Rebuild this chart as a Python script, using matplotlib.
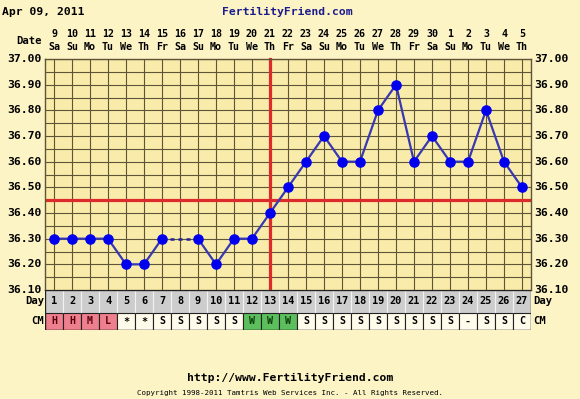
import numpy as np
import matplotlib.pyplot as plt
from matplotlib.patches import Rectangle

W, H = 580, 399

cycle_days = list(range(1, 28))
dates = ['9', '10', '11', '12', '13', '14', '15', '16', '17', '18', '19', '20', '21', '22',
         '23', '24', '25', '26', '27', '28', '29', '30', '1', '2', '3', '4', '5']
weekdays = ['Sa', 'Su', 'Mo', 'Tu', 'We', 'Th', 'Fr', 'Sa', 'Su', 'Mo', 'Tu', 'We', 'Th', 'Fr',
            'Sa', 'Su', 'Mo', 'Tu', 'We', 'Th', 'Fr', 'Sa', 'Su', 'Mo', 'Tu', 'We', 'Th']
temps = [36.30, 36.30, 36.30, 36.30, 36.20, 36.20, 36.30, np.nan, 36.30, 36.20, 36.30, 36.30,
         36.40, 36.50, 36.60, 36.70, 36.60, 36.60, 36.80, 36.90, 36.60, 36.70, 36.60, 36.60,
         36.80, 36.60, 36.50]
cm = ['H', 'H', 'M', 'L', '*', '*', 'S', 'S', 'S', 'S', 'S', 'W', 'W', 'W',
      'S', 'S', 'S', 'S', 'S', 'S', 'S', 'S', 'S', '-', 'S', 'S', 'C']
coverline = 36.45
ovulation_day = 13
y_ticks = [36.10, 36.20, 36.30, 36.40, 36.50, 36.60, 36.70, 36.80, 36.90, 37.00]

BG = '#FDF4C6'
PLOT_BG = '#F9EBAA'
GRID = '#5E5538'
MONO = 'DejaVu Sans Mono'
CM_COLORS = {'H': '#EE7F8C', 'M': '#EE7F8C', 'L': '#EE7F8C', 'W': '#5DBE5D'}
CM_TEXT = {'H': '#5A0010', 'M': '#5A0010', 'L': '#5A0010', 'W': '#0A3A0A'}


def px_axes(fig, left, top, right, bottom):
    return fig.add_axes([left / W, 1 - bottom / H, (right - left) / W, (bottom - top) / H])


fig = plt.figure(figsize=(W / 100, H / 100), dpi=100, facecolor=BG)

# main temperature chart
ax = px_axes(fig, 45, 59, 531, 290)
ax.set_facecolor(PLOT_BG)
ax.set_xlim(0.5, 27.5)
ax.set_ylim(36.10, 37.00)
for d in cycle_days:
    ax.axvline(d, color=GRID, lw=0.8, zorder=1)
for v in np.arange(36.15, 37.0, 0.05):
    ax.axhline(v, color=GRID, lw=0.8, zorder=1)
ax.axhline(coverline, color='#DD2B2B', lw=2.3, zorder=2)
ax.plot([ovulation_day, ovulation_day], [36.105, 37.0], color='#DD2B2B', lw=2.3, zorder=2,
        clip_on=False)

t = np.array(temps)
x = np.array(cycle_days)
ok = ~np.isnan(t)
# dashed joins across missing days
xv, tv = x[ok], t[ok]
for i in range(len(xv) - 1):
    if xv[i + 1] - xv[i] > 1:
        ax.plot(xv[i:i + 2], tv[i:i + 2], color='#22229A', lw=1.8, ls=(0, (1.6, 1.6)), zorder=3)
ax.plot(x, t, color='#3838B0', lw=1.6, zorder=3)
ax.plot(xv, tv, 'o', color='#0000EE', ms=6.6, zorder=4)

ax.set_xticks([])
ax.set_yticks([])
for s in ax.spines.values():
    s.set_color(GRID)
    s.set_linewidth(1)

# temperature labels both sides
for v in y_ticks:
    yy = (v - 36.10) / 0.9
    ax.text(-0.006, yy, f'{v:.2f}', transform=ax.transAxes, ha='right', va='center',
            family=MONO, weight='bold', fontsize=8.2)
    ax.text(1.006, yy, f'{v:.2f}', transform=ax.transAxes, ha='left', va='center',
            family=MONO, weight='bold', fontsize=8.2)

# date / weekday header
for d, dt, wd in zip(cycle_days, dates, weekdays):
    ax.text(d, 1.107, dt, transform=ax.get_xaxis_transform(), ha='center', va='center',
            family=MONO, weight='bold', fontsize=7.2)
    ax.text(d, 1.05, wd, transform=ax.get_xaxis_transform(), ha='center', va='center',
            family=MONO, weight='bold', fontsize=7.2)
ax.text(-0.006, 1.078, 'Date', transform=ax.transAxes, ha='right', va='center',
        family=MONO, weight='bold', fontsize=7.6)

# day and CM rows
bx = px_axes(fig, 45, 290, 531, 330)
bx.set_xlim(0.5, 27.5)
bx.set_ylim(0, 40)
bx.axis('off')
for d, c in zip(cycle_days, cm):
    bx.add_patch(Rectangle((d - 0.5, 17), 1, 23, facecolor='#CDCDCD', edgecolor='#F2F2F2', lw=0.8))
    bx.add_patch(Rectangle((d - 0.5, 0), 1, 17, facecolor=CM_COLORS.get(c, '#FFFBEA'),
                           edgecolor='#222222', lw=0.8))
    bx.text(d, 28.5, str(d), ha='center', va='center', family=MONO, weight='bold', fontsize=7.4)
    bx.text(d, 8.5, c, ha='center', va='center', family=MONO, weight='bold', fontsize=7.2,
            color=CM_TEXT.get(c, 'black'))
bx.add_patch(Rectangle((0.5, 0), 27, 40, fill=False, edgecolor='#222222', lw=1))
for lab, yy in [('Day', 28.5), ('CM', 8.5)]:
    bx.text(0.45, yy, lab, ha='right', va='center', family=MONO, weight='bold', fontsize=7.6)
    bx.text(27.65, yy, lab, ha='left', va='center', family=MONO, weight='bold', fontsize=7.6)

# titles and footer
fig.text(2 / W, 1 - 12 / H, 'Apr 09, 2011', ha='left', va='center', family=MONO,
         weight='bold', fontsize=8.2)
fig.text(287 / W, 1 - 12 / H, 'FertilityFriend.com', ha='center', va='center', family=MONO,
         weight='bold', fontsize=8.2, color='#1C1C8C')
fig.text(290 / W, 1 - 378 / H, 'http://www.FertilityFriend.com', ha='center', va='center',
         family=MONO, weight='bold', fontsize=8.2)
fig.text(290 / W, 1 - 393 / H, 'Copyright 1998-2011 Tamtris Web Services Inc. - All Rights Reserved.',
         ha='center', va='center', family=MONO, fontsize=5.4)

fig.savefig('out.png', dpi=100, facecolor=BG)
